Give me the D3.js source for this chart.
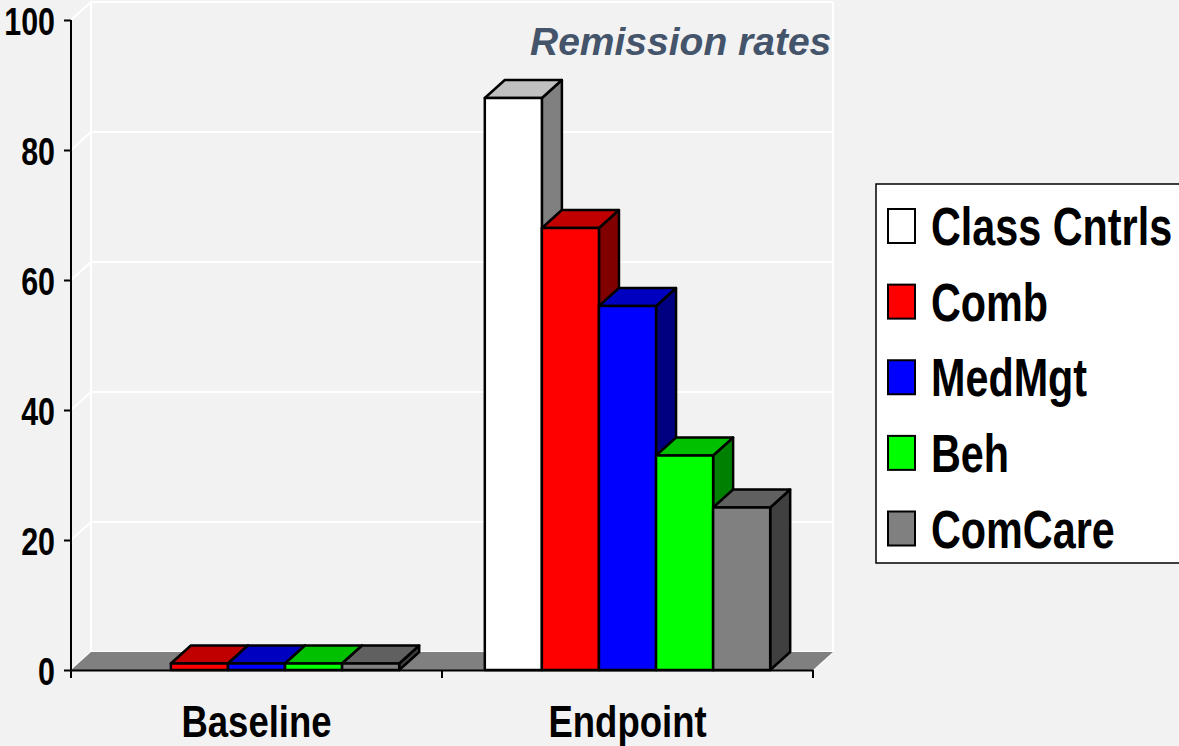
<!DOCTYPE html>
<html>
<head>
<meta charset="utf-8">
<script src="https://cdn.jsdelivr.net/npm/d3@7"></script>
<style>
  body { margin: 0; background: #f2f2f2; }
  svg { display: block; }
  text { font-family: "Liberation Sans", Arial, sans-serif; font-weight: bold; }
</style>
</head>
<body>
<div id="vis"></div>
<script>
// data
const categories = ["Baseline", "Endpoint"];
const series = ["Class Cntrls", "Comb", "MedMgt", "Beh", "ComCare"];
const baselineValues = [null, 1, 1, 1, 1];
const endpointValues = [88, 68, 56, 33, 25];
const yTicks = [0, 20, 40, 60, 80, 100];

const frontColors = ["#ffffff", "#ff0000", "#0000ff", "#00ff00", "#808080"];
const topColors = ["#c0c0c0", "#c00000", "#0000c0", "#00c000", "#606060"];
const sideColors = ["#808080", "#800000", "#000080", "#008000", "#404040"];

const width = 1179;
const height = 746;
const depthX = 20;
const depthY = -18;

const rows = categories.flatMap((cat, ci) =>
  series.map((s, si) => ({cat, s, si, value: [baselineValues, endpointValues][ci][si]}))
).filter(d => d.value != null);

const svg = d3.select("div#vis").append("svg").attr("width", width).attr("height", height);
svg.append("rect").attr("width", width).attr("height", height).attr("fill", "#f2f2f2");

const x0 = d3.scaleBand().domain(categories).range([71, 813]);
const x1 = d3.scaleBand().domain(series).range([0, x0.bandwidth()]).paddingOuter(0.75);
const y = d3.scaleLinear().domain([0, 100]).range([670, 20]);

const [left, right] = x0.range();

// back wall + side wall grid
const wall = svg.append("g").attr("stroke", "#ffffff").attr("stroke-width", 2).attr("fill", "none");
wall.selectAll("path.grid").data(yTicks).enter()
  .append("path")
  .attr("class", "grid")
  .attr("d", t => `M${left},${y(t)}L${left + depthX},${y(t) + depthY}L${right + depthX},${y(t) + depthY}`);
wall.selectAll("line.edge").data([left + depthX, right + depthX]).enter()
  .append("line")
  .attr("class", "edge")
  .attr("x1", d => d).attr("x2", d => d)
  .attr("y1", y(100) + depthY).attr("y2", y(0) + depthY);
wall.append("line")
  .attr("x1", right).attr("y1", y(0))
  .attr("x2", right + depthX).attr("y2", y(0) + depthY);

// floor
svg.append("path")
  .attr("fill", "#808080")
  .attr("d", `M${left},${y(0)}L${right},${y(0)}L${right + depthX},${y(0) + depthY}L${left + depthX},${y(0) + depthY}Z`);

// bars
const bars = svg.selectAll("g.bar").data(rows).enter()
  .append("g")
  .attr("class", "bar")
  .attr("stroke", "#000")
  .attr("stroke-width", 2.5)
  .attr("stroke-linejoin", "round");

const bx = d => x0(d.cat) + x1(d.s);
const bw = x1.bandwidth();

bars.append("path")
  .attr("fill", d => sideColors[d.si])
  .attr("d", d => `M${bx(d) + bw},${y(d.value)}L${bx(d) + bw + depthX},${y(d.value) + depthY}L${bx(d) + bw + depthX},${y(0) + depthY}L${bx(d) + bw},${y(0)}Z`);
bars.append("path")
  .attr("fill", d => topColors[d.si])
  .attr("d", d => `M${bx(d)},${y(d.value)}L${bx(d) + depthX},${y(d.value) + depthY}L${bx(d) + bw + depthX},${y(d.value) + depthY}L${bx(d) + bw},${y(d.value)}Z`);
bars.append("rect")
  .attr("fill", d => frontColors[d.si])
  .attr("x", bx)
  .attr("y", d => y(d.value))
  .attr("width", bw)
  .attr("height", d => y(0) - y(d.value));

// y axis
const yAxis = svg.append("g")
  .attr("transform", `translate(${left},0)`)
  .call(d3.axisLeft(y).tickValues(yTicks).tickSize(7).tickSizeOuter(0));
yAxis.select(".domain").attr("stroke", "#000").attr("stroke-width", 2).attr("d", `M0,${y(100)}V${y(0) + 8}`);
yAxis.selectAll(".tick line").attr("stroke", "#000").attr("stroke-width", 2);
yAxis.selectAll(".tick text")
  .attr("x", 0).attr("dy", "0.36em")
  .attr("transform", "translate(-16,0) scale(0.78,1)")
  .attr("fill", "#000")
  .style("font-size", "39px");

// x axis
const xAxis = svg.append("g")
  .attr("transform", `translate(0,${y(0)})`)
  .call(d3.axisBottom(x0).tickSize(0).tickSizeOuter(0));
xAxis.select(".domain").attr("stroke", "#000").attr("stroke-width", 2);
xAxis.selectAll(".tick text")
  .attr("y", 0).attr("dy", 0)
  .attr("transform", "translate(0,67) scale(0.83,1)")
  .attr("fill", "#000")
  .style("font-size", "44px");
xAxis.selectAll("line.bound").data([left, ...categories.map(c => x0(c) + x0.bandwidth())]).enter()
  .append("line")
  .attr("class", "bound")
  .attr("x1", d => d).attr("x2", d => d)
  .attr("y1", 0).attr("y2", 8)
  .attr("stroke", "#000").attr("stroke-width", 2);

// title
svg.append("text")
  .attr("x", 530).attr("y", 55)
  .attr("fill", "#44546a")
  .style("font-style", "italic")
  .style("font-size", "39px")
  .text("Remission rates");

// legend
const ly = d3.scalePoint().domain(series).range([226, 528.5]);
svg.append("rect")
  .attr("x", 876).attr("y", 184).attr("width", 340).attr("height", 379)
  .attr("fill", "#ffffff").attr("stroke", "#000").attr("stroke-width", 1.5);
const items = svg.selectAll("g.legend").data(series).enter()
  .append("g")
  .attr("class", "legend")
  .attr("transform", d => `translate(888,${ly(d)})`);
items.append("rect")
  .attr("y", -17).attr("width", 27).attr("height", 34)
  .attr("fill", (d, i) => frontColors[i])
  .attr("stroke", "#000").attr("stroke-width", 2);
items.append("text")
  .attr("transform", "translate(43,19) scale(0.78,1)")
  .style("font-size", "53px")
  .text(d => d);
</script>
</body>
</html>
